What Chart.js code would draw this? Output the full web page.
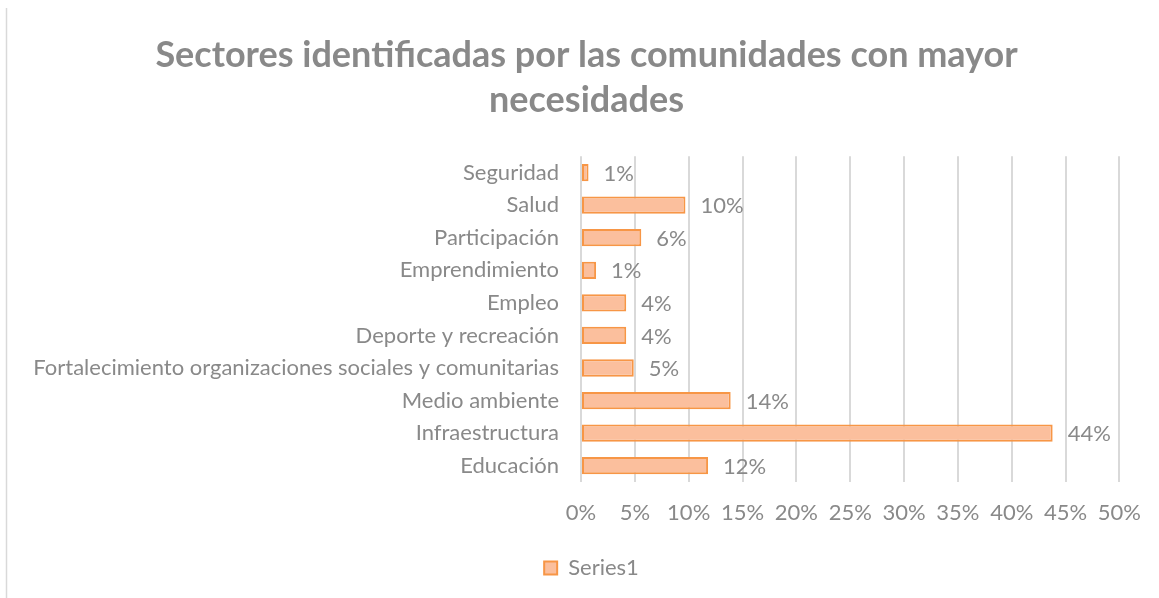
<!DOCTYPE html>
<html><head><meta charset="utf-8">
<script src="https://cdn.jsdelivr.net/npm/chart.js@4"></script>
<style>html,body{margin:0;padding:0;background:#fff;}#wrap{width:1159px;height:598px;position:relative;}</style>
</head><body><div id="wrap"><canvas id="c" width="1159" height="598"></canvas></div>
<script>
const categories = ["Seguridad","Salud","Participación","Emprendimiento","Empleo","Deporte y recreación","Fortalecimiento organizaciones sociales y comunitarias","Medio ambiente","Infraestructura","Educación"];
const values = [0.7, 9.7, 5.6, 1.4, 4.2, 4.2, 4.9, 13.9, 43.8, 11.8];
const xTicks = [0,5,10,15,20,25,30,35,40,45,50];
const seriesName = "Series1";
const titleLines = ["Sectores identificadas por las comunidades con mayor","necesidades"];

const FONT = "Lato, 'Open Sans', sans-serif";
const GRAY = "#898989";

const labelPlugin = {
  id: 'vals',
  afterDatasetsDraw(chart) {
    const ctx = chart.ctx;
    const meta = chart.getDatasetMeta(0);
    ctx.save();
    ctx.font = "22px " + FONT;
    ctx.fillStyle = GRAY;
    ctx.textBaseline = 'middle';
    ctx.textAlign = 'left';
    meta.data.forEach((el, i) => {
      ctx.fillText(Math.round(values[i]) + '%', el.x + 15, el.y + 1);
    });
    ctx.restore();
  }
};
const framePlugin = {
  id: 'frame',
  afterLayout(chart) {
    if (chart.titleBlock) { chart.titleBlock.left += 44; chart.titleBlock.right += 0; }
    if (chart.legend) { chart.legend.left += 27; chart.legend.right += 27; }
  },
  beforeDraw(chart) {
    const ctx = chart.ctx;
    ctx.save();
    ctx.strokeStyle = '#d9d9d9';
    ctx.lineWidth = 1.5;
    ctx.beginPath();
    ctx.moveTo(6.5, 8);
    ctx.lineTo(6.5, 598);
    ctx.stroke();
    ctx.restore();
  }
};

new Chart(document.getElementById('c'), {
  type: 'bar',
  data: {
    labels: categories,
    datasets: [{
      label: seriesName,
      data: values,
      backgroundColor: '#fbbf9d',
      borderColor: '#f79646',
      borderWidth: 2,
      borderSkipped: false,
      barPercentage: 0.53,
      categoryPercentage: 1
    }]
  },
  options: {
    indexAxis: 'y',
    responsive: false,
    animation: false,
    layout: { padding: { left: 8, right: 38, top: 33, bottom: 9 } },
    plugins: {
      title: {
        display: true,
        text: titleLines,
        color: GRAY,
        font: { family: FONT, size: 36, weight: 'bold', lineHeight: 1.24 },
        padding: { top: 0, bottom: 34 }
      },
      legend: {
        position: 'bottom',
        labels: {
          color: GRAY,
          font: { family: FONT, size: 22 },
          boxWidth: 13, boxHeight: 13,
          padding: 10
        }
      },
      tooltip: { enabled: false }
    },
    scales: {
      x: {
        min: 0, max: 50,
        afterBuildTicks(scale) { scale.ticks = xTicks.map(v => ({ value: v })); },
        ticks: {
          color: GRAY,
          font: { family: FONT, size: 22 },
          padding: 18,
          maxRotation: 0,
          callback: v => v + '%'
        },
        grid: { color: '#d9d9d9', lineWidth: 2, drawTicks: false },
        border: { display: false },
        afterFit(scale) { scale.height = 65; }
      },
      y: {
        ticks: {
          color: GRAY,
          font: { family: FONT, size: 22 },
          padding: 22,
          autoSkip: false
        },
        grid: { display: false, drawTicks: false },
        border: { display: false },
        afterFit(scale) { scale.width = 573; }
      }
    }
  },
  plugins: [labelPlugin, framePlugin]
});
</script></body></html>
